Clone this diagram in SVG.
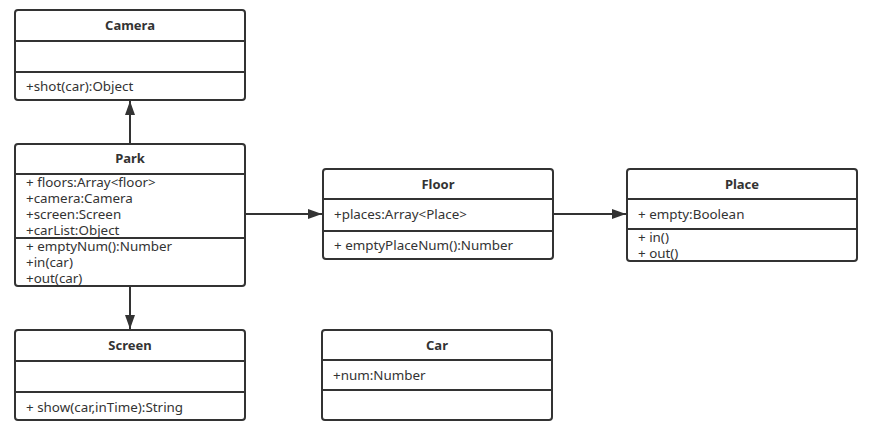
<svg xmlns="http://www.w3.org/2000/svg" width="878" height="442" viewBox="0 0 878 442">
<style>
.box{fill:#fff;stroke:#333;stroke-width:2}
.div{stroke:#333;stroke-width:2}
.t{font-family:"Noto Sans","Open Sans",sans-serif;font-size:13px;font-weight:bold;fill:#333;text-anchor:middle}
.m{font-family:"Noto Sans","Open Sans",sans-serif;font-size:13.4px;fill:#333}
.c{stroke:#333;stroke-width:2;fill:none}
</style>
<defs>
<marker id="ah" viewBox="0 0 14 10" refX="14" refY="5" markerWidth="14" markerHeight="10" markerUnits="userSpaceOnUse" orient="auto">
<path d="M0,0 L14,5 L0,10 Z" fill="#333"/>
</marker>
</defs>
<g id="connectors">
<line class="c" x1="130" y1="144" x2="130" y2="101" marker-end="url(#ah)"/>
<line class="c" x1="130" y1="286" x2="130" y2="329" marker-end="url(#ah)"/>
<line class="c" x1="245" y1="214" x2="322" y2="214" marker-end="url(#ah)"/>
<line class="c" x1="553" y1="214" x2="626" y2="214" marker-end="url(#ah)"/>
</g>
<g id="camera">
<rect class="box" x="15" y="10" width="230" height="90" rx="3"/>
<line class="div" x1="15" y1="41" x2="245" y2="41"/>
<line class="div" x1="15" y1="72" x2="245" y2="72"/>
<text class="t" x="130" y="30">Camera</text>
<text class="m" x="26" y="91">+shot(car):Object</text>
</g>
<g id="park">
<rect class="box" x="15" y="144" width="230" height="142" rx="3"/>
<line class="div" x1="15" y1="174" x2="245" y2="174"/>
<line class="div" x1="15" y1="238" x2="245" y2="238"/>
<text class="t" x="130" y="163">Park</text>
<text class="m" x="26" y="187">+ floors:Array&lt;floor&gt;</text>
<text class="m" x="26" y="203">+camera:Camera</text>
<text class="m" x="26" y="219">+screen:Screen</text>
<text class="m" x="26" y="235">+carList:Object</text>
<text class="m" x="26" y="251">+ emptyNum():Number</text>
<text class="m" x="26" y="267">+in(car)</text>
<text class="m" x="26" y="283">+out(car)</text>
</g>
<g id="screen">
<rect class="box" x="15" y="330" width="230" height="90" rx="3"/>
<line class="div" x1="15" y1="361" x2="245" y2="361"/>
<line class="div" x1="15" y1="392" x2="245" y2="392"/>
<text class="t" x="130" y="350">Screen</text>
<text class="m" x="26" y="412">+ show(car,inTime):String</text>
</g>
<g id="floor">
<rect class="box" x="323" y="169" width="230" height="90" rx="3"/>
<line class="div" x1="323" y1="199" x2="553" y2="199"/>
<line class="div" x1="323" y1="231" x2="553" y2="231"/>
<text class="t" x="438" y="189">Floor</text>
<text class="m" x="334" y="219">+places:Array&lt;Place&gt;</text>
<text class="m" x="334" y="250">+ emptyPlaceNum():Number</text>
</g>
<g id="place">
<rect class="box" x="627" y="169" width="230" height="92" rx="3"/>
<line class="div" x1="627" y1="199" x2="857" y2="199"/>
<line class="div" x1="627" y1="229" x2="857" y2="229"/>
<text class="t" x="742" y="189">Place</text>
<text class="m" x="638" y="219">+ empty:Boolean</text>
<text class="m" x="638" y="242">+ in()</text>
<text class="m" x="638" y="258">+ out()</text>
</g>
<g id="car">
<rect class="box" x="322" y="330" width="230" height="90" rx="3"/>
<line class="div" x1="322" y1="360" x2="552" y2="360"/>
<line class="div" x1="322" y1="390" x2="552" y2="390"/>
<text class="t" x="437" y="350">Car</text>
<text class="m" x="333" y="380">+num:Number</text>
</g>
</svg>
